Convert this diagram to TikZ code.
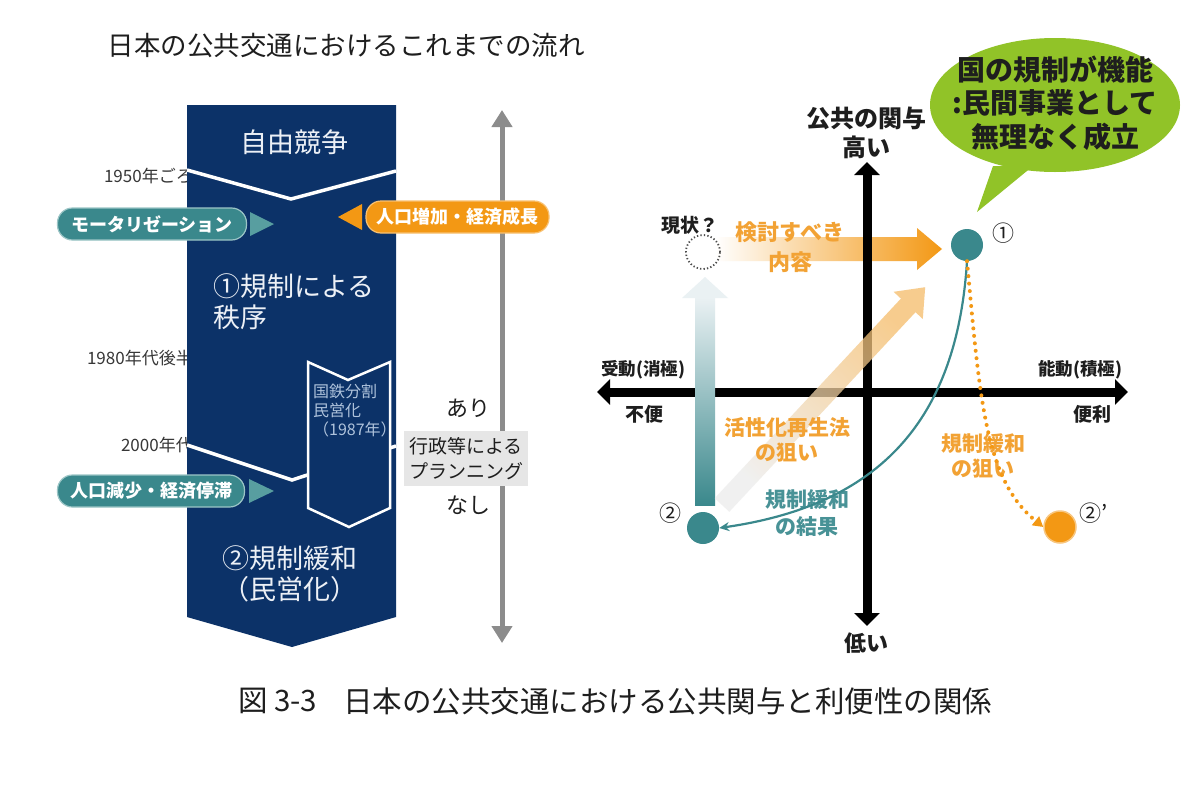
\documentclass[tikz,border=0pt]{standalone}
\usepackage{fontspec}
\setmainfont{Noto Sans CJK JP}
\usetikzlibrary{arrows.meta,calc,shapes.geometric}
\definecolor{navy}{RGB}{12,50,104}
\definecolor{tealc}{RGB}{58,136,140}
\definecolor{teallt}{RGB}{88,158,160}
\definecolor{orng}{RGB}{243,152,20}
\definecolor{orngtxt}{RGB}{242,162,52}
\definecolor{tealtxt}{RGB}{72,146,150}
\definecolor{grayarr}{RGB}{140,140,140}
\definecolor{bubble}{RGB}{145,195,40}
\definecolor{chevtxt}{RGB}{175,195,220}
\definecolor{boxgray}{RGB}{230,230,230}
\definecolor{txtdark}{RGB}{30,30,30}
\definecolor{yrtxt}{RGB}{55,55,55}
\definecolor{coltxt}{RGB}{236,240,246}
\definecolor{barlt}{RGB}{234,241,243}
\definecolor{diaglt}{RGB}{236,236,236}
\definecolor{diagor}{RGB}{245,188,105}
\newcommand{\jfs}[2]{\fontsize{#1}{#2}\selectfont}
\begin{document}
\begin{tikzpicture}[x=1pt,y=-1pt,
  axtip/.tip={Triangle[width=25pt,length=13pt]},
  yrlbl/.style={font=\jfs{17}{20}, text=yrtxt, inner sep=0},
  wtxt/.style={font=\jfs{27}{31}, text=coltxt, inner sep=0},
  chtxt/.style={font=\jfs{16}{19}, text=chevtxt, inner sep=0},
  pillbase/.style={rounded corners=15pt, minimum height=32pt, inner sep=0, text=white, font=\bfseries\jfs{18}{20}},
  tpill/.style={pillbase, fill=tealc, draw=teallt!60!white, line width=1.2pt},
  opill/.style={pillbase, fill=orng, draw=orng!60!white, line width=1.2pt},
  wline/.style={white, line width=3.5pt},
  axisline/.style={black, line width=9pt},
  blbl/.style={font=\bfseries\jfs{#1}{#1}, text=txtdark, inner sep=0},
  otxt/.style={font=\bfseries\jfs{21}{25}, text=orngtxt, align=center, inner sep=0},
  ttxt/.style={font=\bfseries\jfs{21}{27}, text=tealtxt, align=center, inner sep=0},
  dot/.style={circle, minimum size=32pt, inner sep=0},
  circlbl/.style={font=\jfs{22}{22}, text=txtdark, inner sep=0},
  captxtstyle/.style={font=\jfs{29.5}{30}, text=txtdark, inner sep=0}
]
\fill[white] (0,0) rectangle (1200,798);
\useasboundingbox (0,0) rectangle (1200,798);

% ---------- left part ----------
\node[font=\jfs{26.5}{28}, text=txtdark, inner sep=0] (title) at (346,45) {日本の公共交通におけるこれまでの流れ};

\node[yrlbl, anchor=east] (y1950) at (193,176) {1950年ごろ};
\node[yrlbl, anchor=east] (y1980) at (193,358) {1980年代後半};
\node[yrlbl, anchor=east] (y2000) at (193,445) {2000年代};

\fill[navy] (187,105) -- (396,105) -- (396,617) -- (292,647) -- (187,617) -- cycle;
\draw[wline] (187,170) -- (291,199) -- (396,171);
\draw[wline] (187,445) -- (292,480) -- (396,446);

\node[wtxt] (free) at (294,142) {自由競争};
\node[wtxt, anchor=west, align=left] (reg1) at (213,302) {①規制による\\秩序};
\node[wtxt, anchor=west, align=left] (reg2) at (222,574) {②規制緩和\\（民営化）};

\draw[white, line width=2.5pt, fill=navy, line join=miter] (308,362) -- (348,380) -- (390,362) -- (390,508) -- (349,527) -- (308,508) -- cycle;
\node[chtxt, anchor=west, align=left] (jnr) at (313,411) {国鉄分割\\民営化\\（1987年）};

\node[tpill, minimum width=189pt] (motor) at (152,224) {モータリゼーション};
\fill[teallt] (250,212) -- (274,224) -- (250,236) -- cycle;
\node[tpill, minimum width=187pt] (decl) at (151,491) {人口減少・経済停滞};
\fill[teallt] (249,479) -- (274,491) -- (249,503) -- cycle;

\coordinate (gtop) at (502,110);
\coordinate (gbot) at (502,643);
\draw[grayarr, line width=5pt, {Triangle[width=20pt,length=17pt]}-{Triangle[width=20pt,length=17pt]}] (gtop) -- (gbot);

\fill[orng] (362,204) -- (338,217) -- (362,230) -- cycle;
\node[opill, minimum width=183pt] (growth) at (457.5,217) {人口増加・経済成長};

\node[fill=boxgray, minimum width=124pt, minimum height=55pt, align=center, font=\jfs{19}{25}, text=txtdark, inner sep=0] (plan) at (466,458.5) {行政等による\\プランニング};
\node[circlbl] (ari) at (468,408) {あり};
\node[circlbl] (nashi) at (468,505) {なし};

% ---------- right part ----------
\shade[left color=white, middle color=orng!35!white, right color=orng] (715,237) -- (917,237) -- (917,228) -- (942,249) -- (917,270) -- (917,261) -- (715,261) -- cycle;

\coordinate (xl) at (597,392);
\coordinate (xr) at (1128,392);
\coordinate (yt) at (867,162);
\coordinate (yb) at (867,626);
\draw[axisline, axtip-axtip] (xl) -- (xr);
\draw[axisline, axtip-axtip] (yb) -- (yt);

\shade[top color=barlt, middle color=tealc!40!barlt, bottom color=tealc] (695,298) rectangle (715,505);
\fill[barlt] (682,298) -- (705,277) -- (728,298) -- cycle;

\shade[bottom color=diaglt, top color=diagor, shading angle=-43, opacity=0.75] (729.3,511.8) -- (915.5,312.2) -- (922.8,319.0) -- (925.2,287.2) -- (893.6,291.8) -- (900.9,298.6) -- (714.7,498.2) -- cycle;

\fill[bubble] (993,166) -- (977,212) -- (1033,166) -- cycle;
\node[ellipse, fill=bubble, minimum width=250pt, minimum height=134pt, inner sep=0] (bub) at (1055,105) {};
\node[font=\bfseries\jfs{28}{33.5}, align=center, text=txtdark, inner sep=0] (bubtxt) at (1055,103) {国の規制が機能\\:民間事業として\\無理なく成立};

\node[blbl=24] (pub) at (866,118) {公共の関与};
\node[blbl=24] (high) at (866,147) {高い};
\node[blbl=22] (low) at (866,643) {低い};
\node[blbl=17.5] (passive) at (643,370) {受動(消極)};
\node[blbl=17.5] (active) at (1080,370) {能動(積極)};
\node[blbl=19] (inconv) at (644,414) {不便};
\node[blbl=19] (conv) at (1092,414) {便利};
\node[blbl=19] (nowlbl) at (690,225) {現状？};

\node[otxt, font=\bfseries\jfs{22}{30}] (kento) at (790,247) {検討すべき\\内容};
\node[otxt] (kasse) at (787,439.5) {活性化再生法\\の狙い};
\node[ttxt] (kekka) at (807,513.5) {規制緩和\\の結果};
\node[otxt] (nerai) at (983,455.5) {規制緩和\\の狙い};

\node[dot, fill=tealc] (c1) at (967,245) {};
\node[dot, fill=tealc] (c2) at (703,528) {};
\node[dot, fill=orng, draw=orng!55!white, line width=1.5pt] (c2p) at (1060,527) {};
\node[circle, draw=black!70, dash pattern=on 1.3pt off 2.2pt, line width=1.8pt, minimum size=34pt, inner sep=0] (now) at (703,252) {};

\node[circlbl] (l1) at (1003,233) {①};
\node[circlbl] (l2) at (670,513) {②};
\node[circlbl] (l2p) at (1094,513) {②'};

\draw[tealc, line width=2.2pt, -{Stealth[length=10pt,width=9pt]}] (c1.south) .. controls (957,420) and (880,505) .. (c2.east);
\draw[orng, line width=4pt, line cap=round, dash pattern=on 0pt off 7.5pt, -{Triangle[length=10pt,width=11pt]}] (c1.south) .. controls (980,400) and (985,480) .. (c2p.west);

% ---------- caption ----------
\node[captxtstyle, anchor=west] (fig) at (238,701) {図 3-3};
\node[captxtstyle, anchor=west] (captxt) at (343,701) {日本の公共交通における公共関与と利便性の関係};
\end{tikzpicture}
\end{document}
